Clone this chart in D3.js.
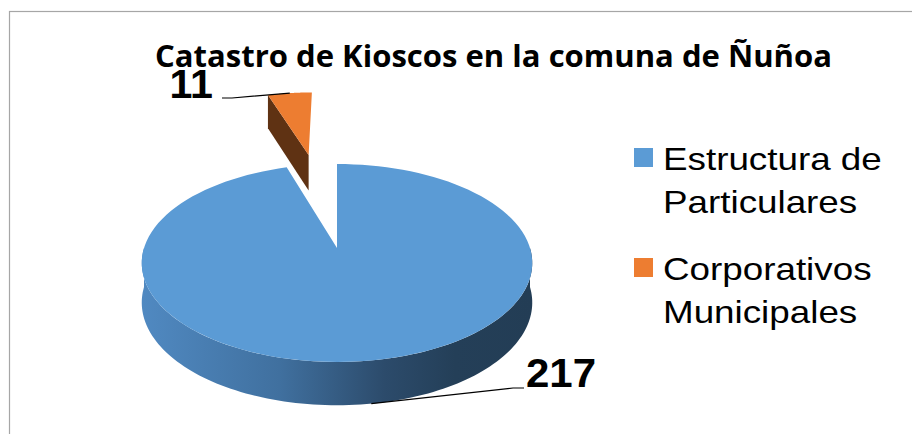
<!DOCTYPE html>
<html><head><meta charset="utf-8">
<script src="https://cdn.jsdelivr.net/npm/d3@7"></script>
<style>html,body{margin:0;padding:0;background:#fff;overflow:hidden}</style>
</head><body>
<svg id="c" width="912" height="434"></svg>
<script>
const title = "Catastro de Kioscos en la comuna de Ñuñoa";
const categories = ["Estructura de Particulares", "Corporativos Municipales"];
const values = [217, 11];
const legendLines = [["Estructura de", "Particulares"], ["Corporativos", "Municipales"]];
const explode = [0, 1.14];
const topColors = ["#5b9bd5", "#ed7d31"];
const faceColors = ["#2f5577", "#5f3213"];

const svg = d3.select("#c");
svg.append("rect").attr("x", 9.5).attr("y", 11.5).attr("width", 1000).attr("height", 1000)
  .attr("fill", "#fff").attr("stroke", "#a6a6a6").attr("stroke-width", 1.2);

// projection (perspective-like 3D pie)
const cx = 337, cy = 248, K = 193, T = 96.7, D = 6.6;
const depth = s => 15 + 24 * s;
function proj(X, Y, z) {
  const s = D / (D + Y);
  return [cx + X * K * s, cy - Y * T * s + z * depth(s)];
}
const pie = d3.pie().sort(null).value(d => d)(values);

const defs = svg.append("defs");
const g = defs.append("linearGradient").attr("id", "side").attr("gradientUnits", "userSpaceOnUse")
  .attr("x1", 143).attr("x2", 533).attr("y1", 0).attr("y2", 0);
[[0, "#5089c1"], [0.35, "#40709f"], [0.62, "#2c4b6b"], [0.8, "#243f58"], [1, "#233d55"]]
  .forEach(([o, c]) => g.append("stop").attr("offset", o).attr("stop-color", c));

function slice(d, i) {
  const mid = (d.startAngle + d.endAngle) / 2;
  const ox = explode[i] * Math.sin(mid), oy = explode[i] * Math.cos(mid);
  const pt = (a, z) => proj(ox + Math.sin(a), oy + Math.cos(a), z);
  const arc = (a0, a1, z) => d3.range(0, 121).map(k => pt(a0 + (a1 - a0) * k / 120, z));
  return {ox, oy, mid, pt, arc, apex: z => proj(ox, oy, z)};
}
const line = d3.line();

// far slice (orange) first, then the big slice
[1, 0].forEach(i => {
  const d = pie[i];
  const S = slice(d, i);
  const grp = svg.append("g");
  if (i === 1) {
    grp.append("path").attr("d", line([S.apex(0), S.pt(d.startAngle, 0), S.pt(d.startAngle, 1), S.apex(1)]) + "Z")
      .attr("fill", faceColors[i]);
  } else {
    const a0 = Math.max(d.startAngle, Math.PI / 2), a1 = Math.min(d.endAngle, 3 * Math.PI / 2);
    const pts = S.arc(a0, a1, 0).concat(S.arc(a0, a1, 1).reverse());
    grp.append("path").attr("d", line(pts) + "Z").attr("fill", "url(#side)");
  }
  grp.append("path").attr("d", line([S.apex(0)].concat(S.arc(d.startAngle, d.endAngle, 0))) + "Z")
    .attr("fill", topColors[i]);
});

// data labels with leader lines
const S0 = slice(pie[0], 0), S1 = slice(pie[1], 1);
const p217 = S0.pt(S0.mid, 1);
svg.append("path").attr("d", line([p217, [513, 388], [524, 388]])).attr("fill", "none").attr("stroke", "#000").attr("stroke-width", 1.2);
const p11 = S1.pt(S1.mid, 0);
svg.append("path").attr("d", line([p11, [232, 98], [222, 98]])).attr("fill", "none").attr("stroke", "#000").attr("stroke-width", 1.2);

svg.append("text").attr("x", 155).attr("y", 67).attr("textLength", 677).attr("lengthAdjust", "spacingAndGlyphs")
  .attr("font-family", "'Open Sans', sans-serif").attr("font-weight", 700).attr("font-size", 31).attr("fill", "#000").text(title);

svg.append("text").attr("transform", "translate(213,98) scale(1.03,1)").attr("text-anchor", "end")
  .attr("font-family", "'Liberation Sans', Arial, sans-serif").attr("font-weight", 700).attr("font-size", 40).text(values[1]);
svg.append("text").attr("transform", "translate(526,387) scale(1.05,1)")
  .attr("font-family", "'Liberation Sans', Arial, sans-serif").attr("font-weight", 700).attr("font-size", 40).text(values[0]);

// legend
const ly = [148, 258];
categories.forEach((c, i) => {
  svg.append("rect").attr("x", 634).attr("y", ly[i]).attr("width", 19).attr("height", 19).attr("fill", topColors[i]);
  legendLines[i].forEach((t, j) => {
    svg.append("text").attr("transform", `translate(663,${ly[i] + 22 + j * 43}) scale(1.15,1)`)
      .attr("font-family", "'Liberation Sans', Arial, sans-serif").attr("font-size", 32).attr("fill", "#000").text(t);
  });
});
</script>
</body></html>
